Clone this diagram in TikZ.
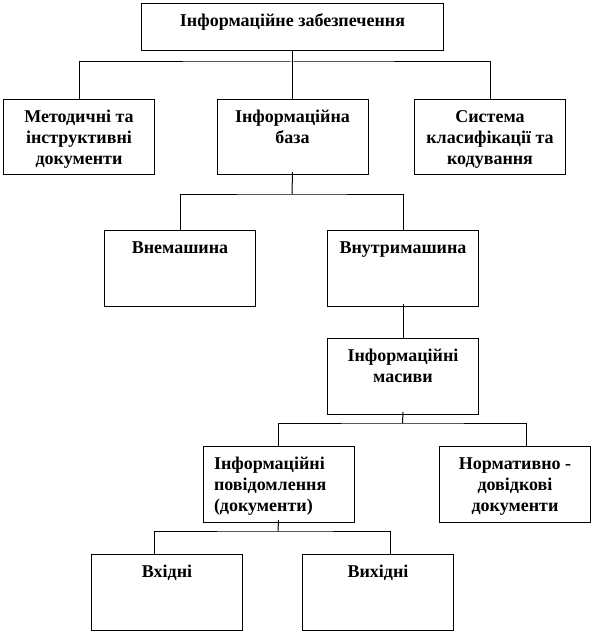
\documentclass[tikz,border=0pt]{standalone}
\usepackage{fontspec}
\setmainfont{Liberation Serif}
\newcommand{\boxtext}[4][\centering]{\begin{minipage}[t][#3][t]{#2}#1\strut #4\end{minipage}}
\tikzset{
  blk/.style={draw,line width=1pt,anchor=north west,inner xsep=5pt,inner ysep=8pt,
    font=\fontsize{18}{21}\selectfont\bfseries},
  link/.style={line width=1pt}
}
\begin{document}
\begin{tikzpicture}[x=1pt,y=-1pt]
    \useasboundingbox (0,0) rectangle (601,639);
    % top level
    \node[blk] (inf) at (141,3) {\boxtext{292pt}{31pt}{Інформаційне забезпечення}};
    \node[blk] (met) at (3,99) {\boxtext{141pt}{59pt}{Методичні та\\ інструктивні\\ документи}};
    \node[blk] (baza) at (216.5,99) {\boxtext{141pt}{59pt}{Інформаційна\\ база}};
    \node[blk] (sys) at (414,99) {\boxtext{141pt}{59pt}{Система\\ класифікації та\\ кодування}};
    % bases
    \node[blk] (vne) at (104,230) {\boxtext{141pt}{60pt}{Внемашина}};
    \node[blk] (vnu) at (327,230) {\boxtext{141pt}{60pt}{Внутримашина}};
    \node[blk] (mas) at (327,338) {\boxtext{141pt}{60pt}{Інформаційні\\ масиви}};
    % arrays
    \node[blk] (pov) at (202.5,446) {\boxtext[\raggedright\leftskip=6pt]{141pt}{60pt}{Інформаційні\\ повідомлення\\ (документи)}};
    \node[blk] (norm) at (439,446) {\boxtext{141pt}{60pt}{Нормативно -\\ довідкові\\ документи}};
    \node[blk] (vkh) at (91,554) {\boxtext{141pt}{60pt}{Вхідні}};
    \node[blk] (vyh) at (302,554) {\boxtext{141pt}{60pt}{Вихідні}};
    % connectors
    \coordinate (b1) at (292,62);
    \coordinate (b2) at (292,194);
    \coordinate (b4) at (402.5,423);
    \coordinate (b5) at (278,531);
    \draw[link] (inf.south) -- (baza.north);
    \draw[link] (met.north) |- (b1) -| (sys.north);
    \draw[link] ([yshift=3pt]baza.south) -- (b2);
    \draw[link] (vne.north) |- (b2) -| (vnu.north);
    \draw[link] ([yshift=3pt]vnu.south) -- (mas.north);
    \draw[link] ([yshift=3pt]mas.south) -- (b4);
    \draw[link] (pov.north) |- (b4) -| ([xshift=11pt]norm.north);
    \draw[link] ([yshift=3pt]pov.south) -- (b5);
    \draw[link] ([xshift=-13pt]vkh.north) |- (b5) -| ([xshift=12pt]vyh.north);
\end{tikzpicture}
\end{document}
